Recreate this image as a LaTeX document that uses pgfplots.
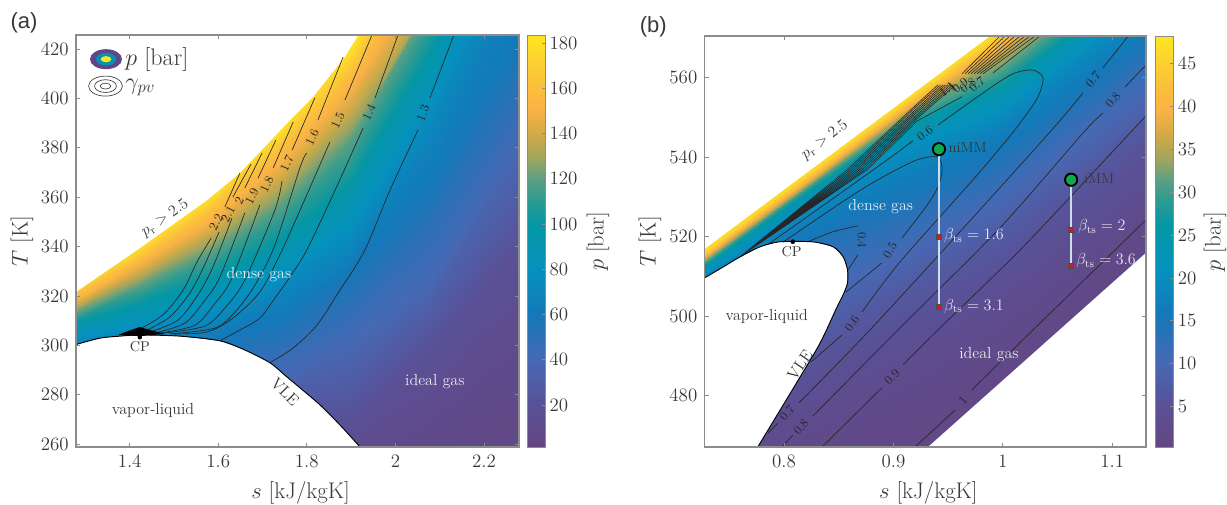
\RequirePackage{fix-cm}
\documentclass[border=0pt]{standalone}
\usepackage{fontspec}
\usepackage{pgfplots}
\pgfplotsset{compat=1.18}
\newfontfamily\arialf{Liberation Sans}
\newcommand\fs[1]{\fontsize{#1}{#1}\selectfont}
\definecolor{axgray}{gray}{0.55}
\definecolor{txt}{gray}{0.22}
\pgfplotsset{
  colormap={mm}{
    rgb255(0pt)=(100,70,130) rgb255(10pt)=(90,80,150) rgb255(21pt)=(70,105,180)
    rgb255(32pt)=(20,120,185) rgb255(43pt)=(5,145,190) rgb255(54pt)=(5,150,165)
    rgb255(60pt)=(45,155,145) rgb255(65pt)=(90,160,130) rgb255(70pt)=(160,165,95)
    rgb255(76pt)=(210,170,70) rgb255(82pt)=(250,178,70) rgb255(87pt)=(250,190,60)
    rgb255(94pt)=(252,210,50) rgb255(100pt)=(253,230,30)},
  panel/.style={
    scale only axis, anchor=south west, axis on top, colormap name=mm,
    unbounded coords=jump,
    axis line style={axgray,line width=0.8pt},
    tick style={axgray,line width=0.6pt}, tick align=inside, major tick length=3pt,
    tick label style={font=\fs{14.2},text=txt},
    xticklabel style={yshift=-2.5pt},
    yticklabel style={xshift=-2pt},
    label style={font=\fs{17},text=txt},
    xlabel style={at={(axis description cs:0.507,-0.112)},anchor=center},
    /pgf/number format/fixed,
  },
  cbar/.style={
    scale only axis, at={(parent axis.north east)}, anchor=north west,
    ytick pos=right, yticklabel pos=right, tick align=inside, major tick length=2.5pt,
    axis line style={axgray,line width=0.6pt},
    tick style={axgray,line width=0.6pt},
    tick label style={font=\fs{14.2},text=txt},
    yticklabel style={xshift=0pt},
  },
  cline/.style={no marks,smooth,tension=0.5,line width=0.5pt,color=black!85},
  mask/.style={no marks,draw=none,fill=white},
  vle/.style={no marks,line width=0.7pt,color=black},
}
\tikzset{
  clab/.style={font=\fs{9.5},inner sep=0pt,text=black!85},
  tlab/.style={font=\fs{12},inner sep=0pt,text=txt},
  wlab/.style={font=\fs{12},inner sep=0pt,text=white,text opacity=0.88},
}
\begin{document}
\begin{tikzpicture}
\path[use as bounding box] (0,0) rectangle (920.25pt,378pt);
\node[font=\arialf\fs{16.5},text=txt] at (18pt,360.75pt) {(a)};
\node[font=\arialf\fs{16.5},text=txt] at (490pt,358pt) {(b)};

% panel a
\begin{axis}[panel,
  at={(57pt,42.75pt)}, width=332.25pt, height=309pt,
  xmin=1.279, xmax=2.279, ymin=258.8, ymax=425.7,
  xtick={1.4,1.6,1.8,2,2.2}, ytick={260,280,...,420},
  xlabel={$s$ [kJ/kgK]}, ylabel={$T$ [K]},
  ylabel style={at={(axis description cs:-0.122,0.5)},anchor=center},
  point meta min=1.4, point meta max=183.6,
  colorbar, colorbar shift/.style={xshift=6.4pt},
  colorbar style={cbar, width=13.1pt, height=309pt, ytick={20,40,...,180},
    ylabel={$p$ [bar]},
    ylabel style={at={(axis description cs:4.03,0.5)},anchor=center,font=\fs{17},text=txt}},
]
\addplot[surf,shader=interp,mesh/cols=7,point meta=\thisrow{p}] table[x=s,y=T]{
s T p
1.2655 321.2 183.6
1.4235 340.6 183.6
1.5815 360.9 183.6
1.7395 388.0 183.6
1.8975 420.8 183.6
2.0781 475.5 183.6
2.2926 542.3 183.6
1.2655 319.2 160
1.4235 335.4 160
1.5815 354.0 160
1.7395 379.1 160
1.8975 409.5 160
2.0781 460.1 160
2.2926 535.0 160
1.2655 317.1 150
1.4235 332.9 150
1.5815 349.9 150
1.7395 373.8 150
1.8975 403.4 150
2.0781 452.0 150
2.2926 531.0 150
1.2655 315.5 140
1.4235 330.1 140
1.5815 345.9 140
1.7395 367.8 140
1.8975 396.1 140
2.0781 441.9 140
2.2926 524.9 140
1.2655 312.3 120
1.4235 324.4 120
1.5815 337.8 120
1.7395 356.8 120
1.8975 383.1 120
2.0781 437.8 120
2.2926 516.8 120
1.2655 308.2 100
1.4235 317.1 100
1.5815 327.3 100
1.7395 342.6 100
1.8975 364.9 100
2.0781 418.8 100
2.2926 508.7 100
1.2655 303.4 80
1.4235 308.2 80
1.5815 316.3 80
1.7395 328.5 80
1.8975 348.7 80
2.0781 399.3 80
2.2926 480.3 80
1.2655 299.3 70
1.4235 303.4 70
1.5815 308.2 70
1.7395 321.6 70
1.8975 338.6 70
2.0781 385.2 70
2.2926 460.1 70
1.2655 294.0 60
1.4235 294.0 60
1.5815 302.1 60
1.7395 310.2 60
1.8975 330.5 60
2.0781 365.0 60
2.2926 427.7 60
1.2655 288.0 50
1.4235 288.0 50
1.5815 292.0 50
1.7395 300.1 50
1.8975 316.3 50
2.0781 348.7 50
2.2926 407.4 50
1.2655 281.9 40
1.4235 281.9 40
1.5815 281.9 40
1.7395 288.0 40
1.8975 302.1 40
2.0781 326.4 40
2.2926 387.2 40
1.2655 273.8 30
1.4235 273.8 30
1.5815 273.8 30
1.7395 277.8 30
1.8975 285.9 30
2.0781 314.3 30
2.2926 362.9 30
1.2655 261.6 20
1.4235 261.6 20
1.5815 261.6 20
1.7395 265.7 20
1.8975 269.7 20
2.0781 298.1 20
2.2926 342.6 20
1.2655 245.2 10
1.4235 245.2 10
1.5815 245.2 10
1.7395 245.2 10
1.8975 249.5 10
2.0781 265.7 10
2.2926 298.1 10
1.2655 213.0 1.4
1.4235 213.0 1.4
1.5815 213.0 1.4
1.7395 213.0 1.4
1.8975 213.0 1.4
2.0781 213.0 1.4
2.2926 213.0 1.4
};
% white regions
\addplot[mask] coordinates {(1.26,319.7)(1.279,321.6)(1.417,338.6)(1.575,358.8)(1.649,369.8)(1.762,391.2)(1.814,400.6)(1.886,416.8)(1.916,425.7)(1.931,431.7)(1.26,431.7)} -- cycle;
\addplot[mask] coordinates {(1.26,300)(1.279,300.3)(1.333,302.9)(1.378,303.7)(1.423,304.2)(1.514,303.7)(1.604,301.8)(1.660,298.1)(1.717,292.9)(1.751,287.8)(1.785,282.7)(1.830,275.8)(1.875,267.7)(1.920,258.8)(1.941,254)(1.26,254)} -- cycle;
% contours of gamma_pv
\addplot[cline] coordinates {(1.419,306.2)(1.475,312.3)(1.521,322.4)(1.552,333.7)(1.584,343.4)(nan,nan)(1.615,356.0)(1.649,369.8)};
\addplot[cline] coordinates {(1.435,305.8)(1.491,311.5)(1.536,321.2)(1.566,331.3)(1.602,345.9)(nan,nan)(1.633,360.0)(1.674,373.4)};
\addplot[cline] coordinates {(1.446,305.4)(1.509,310.2)(1.554,320.4)(1.588,331.7)(1.631,351.5)(nan,nan)(1.660,363.7)(1.699,377.9)};
\addplot[cline] coordinates {(1.457,305.0)(1.525,309.0)(1.570,318.3)(1.604,327.7)(1.660,353.6)(nan,nan)(1.690,367.7)(1.730,383.1)};
\addplot[cline] coordinates {(1.469,305.0)(1.548,308.2)(1.593,317.1)(1.631,327.2)(1.694,356.8)(nan,nan)(1.724,371.8)(1.769,390.4)};
\addplot[cline] coordinates {(1.480,305.0)(1.570,307.8)(1.615,315.1)(1.660,326.4)(1.728,354.8)(1.744,366.6)(nan,nan)(1.767,379.1)(1.818,400.2)};
\addplot[cline] coordinates {(1.491,304.6)(1.593,307.0)(1.638,313.5)(1.683,324.4)(1.728,340.6)(1.785,372.2)(1.800,377.9)(nan,nan)(1.825,391.2)(1.882,416.8)};
\addplot[cline] coordinates {(1.498,304.6)(1.575,305.4)(1.633,311.0)(1.694,321.6)(1.739,336.6)(1.785,354.8)(1.852,382.3)(nan,nan)(1.886,399.3)(1.947,425.7)};
\addplot[cline] coordinates {(1.604,301.8)(1.649,306.2)(1.694,311.0)(1.728,319.1)(1.762,327.7)(1.800,338.6)(1.864,362.9)(1.927,388.0)(nan,nan)(1.954,400.2)(2.006,425.7)};
\addplot[cline] coordinates {(1.717,293.0)(1.769,298.9)(1.823,308.2)(1.875,322.4)(1.931,338.6)(1.988,362.9)(2.051,387.2)(nan,nan)(2.078,400.2)(2.132,425.7)};
% VLE
\addplot[vle,smooth] coordinates {(1.279,300.3)(1.333,302.9)(1.378,303.7)(1.423,304.2)(1.514,303.7)(1.604,301.8)(1.660,298.1)(1.717,292.9)(1.751,287.8)(1.785,282.7)(1.830,275.8)(1.875,267.7)(1.920,258.8)};
% lines crowding at the critical point
\addplot[no marks,draw=none,fill=black] coordinates {(1.374,304.2)(1.397,305.8)(1.423,307.4)(1.446,306.2)(1.480,304.6)(1.423,303.7)} -- cycle;
\addplot[only marks,mark=*,mark size=1.5pt,black] coordinates {(1.423,303.3)};
\node[clab,rotate=62] at (axis cs:1.595,349.9) {2.2};
\node[clab,rotate=62] at (axis cs:1.622,353.2) {2.1};
\node[clab,rotate=62] at (axis cs:1.647,358.4) {2};
\node[clab,rotate=65] at (axis cs:1.676,360.4) {1.9};
\node[clab,rotate=65] at (axis cs:1.710,365.3) {1.8};
\node[clab,rotate=65] at (axis cs:1.755,373.8) {1.7};
\node[clab,rotate=65] at (axis cs:1.812,384.4) {1.6};
\node[clab,rotate=65] at (axis cs:1.870,391.2) {1.5};
\node[clab,rotate=65] at (axis cs:1.940,394.5) {1.4};
\node[clab,rotate=70] at (axis cs:2.062,394.1) {1.3};
\node[tlab,rotate=35] at (axis cs:1.480,351.5) {$p_{\mathrm{r}}>2.5$};
\node[wlab] at (axis cs:1.692,328.5) {dense gas};
\node[tlab] at (axis cs:1.453,273.4) {vapor-liquid};
\node[wlab] at (axis cs:2.089,285.1) {ideal gas};
\node[tlab,rotate=-45] at (axis cs:1.751,281.1) {VLE};
\node[tlab,font=\fs{10.7}] at (axis cs:1.423,299.3) {CP};
% key
\fill[fill={rgb,255:red,96;green,70;blue,135}] (axis cs:1.3467,415.9) ellipse[x radius=12pt,y radius=7.5pt];
\fill[fill={rgb,255:red,5;green,145;blue,175}] (axis cs:1.3467,415.9) ellipse[x radius=7.5pt,y radius=4.8pt];
\fill[fill={rgb,255:red,253;green,230;blue,30}] (axis cs:1.3467,415.9) ellipse[x radius=4pt,y radius=2.3pt];
\draw[black!75,line width=0.5pt] (axis cs:1.3456,405.0) ellipse[x radius=12.7pt,y radius=7.5pt];
\draw[black!75,line width=0.5pt] (axis cs:1.3456,405.0) ellipse[x radius=8.2pt,y radius=4.8pt];
\draw[black!75,line width=0.5pt] (axis cs:1.3456,405.0) ellipse[x radius=4pt,y radius=2.2pt];
\node[anchor=west,font=\fs{18},inner sep=0pt,text=txt] at (axis cs:1.390,415.9) {$p$ [bar]};
\node[anchor=west,font=\fs{18},inner sep=0pt,text=txt] at (axis cs:1.390,404.4) {$\gamma_{pv}$};
\end{axis}

% panel b
\begin{axis}[panel,
  at={(528.5pt,42.75pt)}, width=331pt, height=308.25pt,
  xmin=0.7275, xmax=1.1308, ymin=467, ymax=570.5,
  xtick={0.8,0.9,1,1.1}, ytick={480,500,...,560},
  xlabel={$s$ [kJ/kgK]}, ylabel={$T$ [K]},
  ylabel style={at={(axis description cs:-0.124,0.5)},anchor=center},
  point meta min=0.3, point meta max=48.2,
  colorbar, colorbar shift/.style={xshift=6.8pt},
  colorbar style={cbar, width=13.5pt, height=308.25pt, ytick={5,10,...,45},
    ylabel={$p$ [bar]},
    ylabel style={at={(axis description cs:3.33,0.5)},anchor=center,font=\fs{17},text=txt}},
]
\addplot[surf,shader=interp,mesh/cols=5,point meta=\thisrow{p}] table[x=s,y=T]{
s T p
0.7232 517.19 48.2
0.8146 536.01 48.2
0.9060 554.82 48.2
0.9974 573.64 48.2
1.1345 601.86 48.2
0.7232 515.43 46
0.8146 534.25 46
0.9060 553.06 46
0.9974 571.62 46
1.1345 599.84 46
0.7232 514.67 42
0.8146 533.24 42
0.9060 551.80 42
0.9974 569.36 42
1.1345 597.58 42
0.7232 513.66 36
0.8146 531.98 36
0.9060 550.29 36
0.9974 566.08 36
1.1345 594.30 36
0.7232 512.66 30
0.8146 530.97 30
0.9060 548.52 30
0.9974 561.05 30
1.1345 589.27 30
0.7232 511.65 25
0.8146 529.46 25
0.9060 546.00 25
0.9974 556.76 25
1.1345 584.98 25
0.7232 509.88 20
0.8146 526.69 20
0.9060 540.96 20
0.9974 550.98 20
1.1345 579.20 20
0.7232 507.87 17
0.8146 522.65 17
0.9060 534.66 17
0.9974 545.93 17
1.1345 574.15 17
0.7232 500.83 13
0.8146 513.35 13
0.9060 523.36 13
0.9974 535.88 13
1.1345 565.30 13
0.7232 493.23 10
0.8146 502.05 10
0.9060 514.56 10
0.9974 528.28 10
1.1345 556.50 10
0.7232 483.23 7
0.8146 491.95 7
0.9060 505.66 7
0.9974 519.48 7
1.1345 549.00 7
0.7232 468.03 4
0.8146 478.05 4
0.9060 490.56 4
0.9974 505.58 4
1.1345 535.10 4
0.7232 452.93 2
0.8146 464.25 2
0.9060 475.46 2
0.9974 491.78 2
1.1345 522.50 2
0.7232 415.13 0.3
0.8146 433.95 0.3
0.9060 447.76 0.3
0.9974 466.58 0.3
1.1345 494.80 0.3
};
% white regions
\addplot[mask] coordinates {(0.70,511.25)(0.7275,516.9)(0.9883,570.5)(1.0,572.9)(0.70,572.9)} -- cycle;
\addplot[mask] coordinates {(0.70,505)(0.7275,509.6)(0.746,512.6)(0.758,514.6)(0.778,517.4)(0.794,518.6)(0.808,518.8)(0.828,518.6)(0.845,517.4)(0.854,514.9)(0.858,511.6)(0.858,508.3)(0.854,505.3)(0.848,502.0)(0.833,493.2)(0.812,483.4)(0.776,467.0)(0.764,462.2)(0.70,462.2)} -- cycle;
\addplot[mask] coordinates {(0.92,464.2)(0.9316,467)(1.1308,515.9)(1.14,518.2)(1.14,460)(0.92,460)} -- cycle;
% contours of gamma_pv
\addplot[cline] coordinates {(0.9197,467)(0.9563,476.3)(nan,nan)(0.9718,481.4)(1.0276,496.5)(1.1308,524.2)};
\addplot[cline] coordinates {(0.8347,467)(0.8895,481.9)(nan,nan)(0.9087,487.7)(0.9407,496.5)(1.0157,516.6)(1.0888,538.0)(1.1308,550.4)};
\addplot[cline] coordinates {(0.7982,467)(0.8082,470.0)(nan,nan)(0.8265,474.8)(0.9042,496.5)(0.9974,522.2)(1.0733,546.1)(1.0915,551.1)(nan,nan)(1.1117,557.7)(1.1308,563.2)};
\addplot[cline] coordinates {(0.7854,470.5)(0.7945,473.0)(nan,nan)(0.8137,478.1)(0.8786,496.5)(0.9608,521.2)(1.0449,546.9)(1.0733,556.2)(nan,nan)(1.0915,562.5)(1.1190,572.0)};
\addplot[cline] coordinates {(0.8247,488.4)(0.8530,495.2)(nan,nan)(0.8713,501.0)(0.9060,513.6)(0.9727,534.3)(0.9974,542.3)(1.0111,546.9)(1.0312,554.7)(1.0367,559.9)(1.0276,561.9)(1.0111,561.2)(0.9910,557.9)(0.9407,548.1)(nan,nan)(0.9178,544.1)(0.8877,538.0)(0.8146,523.7)(0.7872,518.4)};
\addplot[cline] coordinates {(0.8566,506.0)(0.8896,513.4)(nan,nan)(0.9078,519.6)(0.9307,527.9)(0.9407,532.5)(0.9444,536.8)(0.9407,540.0)(0.9215,539.3)(0.8904,535.0)(0.8603,530.0)(0.7991,518.6)};
\addplot[cline] coordinates {(0.8585,511.6)(0.8676,515.4)(nan,nan)(0.8676,522.7)(0.8448,521.2)(0.8210,518.6)};
% the fan of close contours
\addplot[no marks,line width=0.45pt,color=black!85] coordinates {
(0.7598,514.9)(0.8576,536.8)(0.9216,553.4)(0.9407,558.2)(nan,nan)(0.9627,561.0)(0.9974,570.5)(nan,nan)
(0.7598,514.9)(0.8599,536.8)(0.9216,552.9)(0.9430,558.2)(nan,nan)(0.9654,561.0)(1.0020,570.5)(nan,nan)
(0.7598,514.9)(0.8622,536.8)(0.9216,552.3)(0.9453,558.2)(nan,nan)(0.9682,561.0)(1.0065,570.5)(nan,nan)
(0.7598,514.9)(0.8645,536.8)(0.9216,551.8)(0.9475,558.2)(nan,nan)(0.9709,561.0)(1.0111,570.5)(nan,nan)
(0.7598,514.9)(0.8667,536.8)(0.9216,551.3)(0.9498,558.2)(nan,nan)(0.9737,561.0)(1.0157,570.5)(nan,nan)
(0.7598,514.9)(0.8690,536.8)(0.9216,550.7)(0.9521,558.2)(nan,nan)(0.9764,561.0)(1.0202,570.5)(nan,nan)
(0.7598,514.9)(0.8713,536.8)(0.9216,550.2)(0.9544,558.2)(nan,nan)(0.9791,561.0)(1.0248,570.5)(nan,nan)
(0.7598,514.9)(0.8736,536.8)(0.9216,549.7)(0.9567,558.2)(nan,nan)(0.9819,561.0)(1.0294,570.5)(nan,nan)
(0.7598,514.9)(0.8758,536.8)(0.9216,549.1)(0.9627,555.2)(nan,nan)(0.9910,561.2)(1.0339,570.5)
};
% VLE
\addplot[vle,smooth,tension=0.5] coordinates {(0.7275,509.6)(0.746,512.6)(0.758,514.6)(0.778,517.4)(0.794,518.6)(0.808,518.8)(0.828,518.6)(0.845,517.4)(0.854,514.9)(0.858,511.6)(0.858,508.3)(0.854,505.3)(0.848,502.0)(0.833,493.2)(0.812,483.4)(0.776,467.0)};
\addplot[only marks,mark=*,mark size=1.5pt,black] coordinates {(0.808,518.7)};
% expansions
\addplot[no marks,line width=1.1pt,color={rgb,255:red,205;green,222;blue,235}] coordinates {(0.9416,542.0)(0.9416,502.3)};
\addplot[no marks,line width=1.1pt,color={rgb,255:red,205;green,222;blue,235}] coordinates {(1.0624,534.3)(1.0624,512.7)};
\addplot[only marks,mark=square*,mark size=1.9pt,mark options={fill={rgb,255:red,200;green,30;blue,40},draw=black!70,line width=0.3pt}] coordinates {(0.9416,520.0)(0.9416,502.3)(1.0624,521.7)(1.0624,512.7)};
\addplot[only marks,mark=*,mark size=4.6pt,mark options={fill={rgb,255:red,15;green,168;blue,75},draw=black,line width=1.4pt}] coordinates {(0.9416,542.0)(1.0624,534.3)};
\node[clab,rotate=-90] at (axis cs:0.8712,519.1) {0.4};
\node[clab,rotate=60] at (axis cs:0.8968,516.6) {0.5};
\node[clab,rotate=55] at (axis cs:0.8621,498.2) {0.6};
\node[clab,rotate=50] at (axis cs:0.8027,475.6) {0.7};
\node[clab,rotate=50] at (axis cs:0.8155,472.0) {0.8};
\node[clab,rotate=45] at (axis cs:0.8987,484.6) {0.9};
\node[clab,rotate=50] at (axis cs:0.9636,478.8) {1};
\node[clab,rotate=37] at (axis cs:0.9288,546.1) {0.6};
\node[clab,rotate=50] at (axis cs:1.0824,559.5) {0.7};
\node[clab,rotate=50] at (axis cs:1.1006,554.4) {0.8};
\node[clab,rotate=38] at (axis cs:0.9764,558.4) {0.7};
\node[clab,rotate=38] at (axis cs:0.9680,558.0) {0.8};
\node[clab,rotate=38] at (axis cs:0.9610,558.0) {0.9};
\node[clab,rotate=38] at (axis cs:0.9540,557.6) {1};
\node[clab,rotate=38] at (axis cs:0.9490,557.2) {1.1};
\node[tlab,rotate=37] at (axis cs:0.8373,544.3) {$p_{\mathrm{r}}>2.5$};
\node[wlab] at (axis cs:0.8884,527.5) {dense gas};
\node[tlab] at (axis cs:0.7842,499.8) {vapor-liquid};
\node[wlab] at (axis cs:0.9873,490.2) {ideal gas};
\node[tlab,rotate=55] at (axis cs:0.8146,487.7) {VLE};
\node[tlab,font=\fs{10.7}] at (axis cs:0.8070,516.2) {CP};
\node[tlab,font=\fs{11}] at (axis cs:0.9679,542.4) {niMM};
\node[tlab,font=\fs{11}] at (axis cs:1.0880,534.5) {iMM};
\node[wlab] at (axis cs:0.9736,520.2) {$\beta_{\mathrm{ts}}=1.6$};
\node[wlab] at (axis cs:0.9736,502.5) {$\beta_{\mathrm{ts}}=3.1$};
\node[wlab] at (axis cs:1.0904,522.5) {$\beta_{\mathrm{ts}}=2$};
\node[wlab] at (axis cs:1.0943,513.9) {$\beta_{\mathrm{ts}}=3.6$};
\end{axis}
\end{tikzpicture}
\end{document}
